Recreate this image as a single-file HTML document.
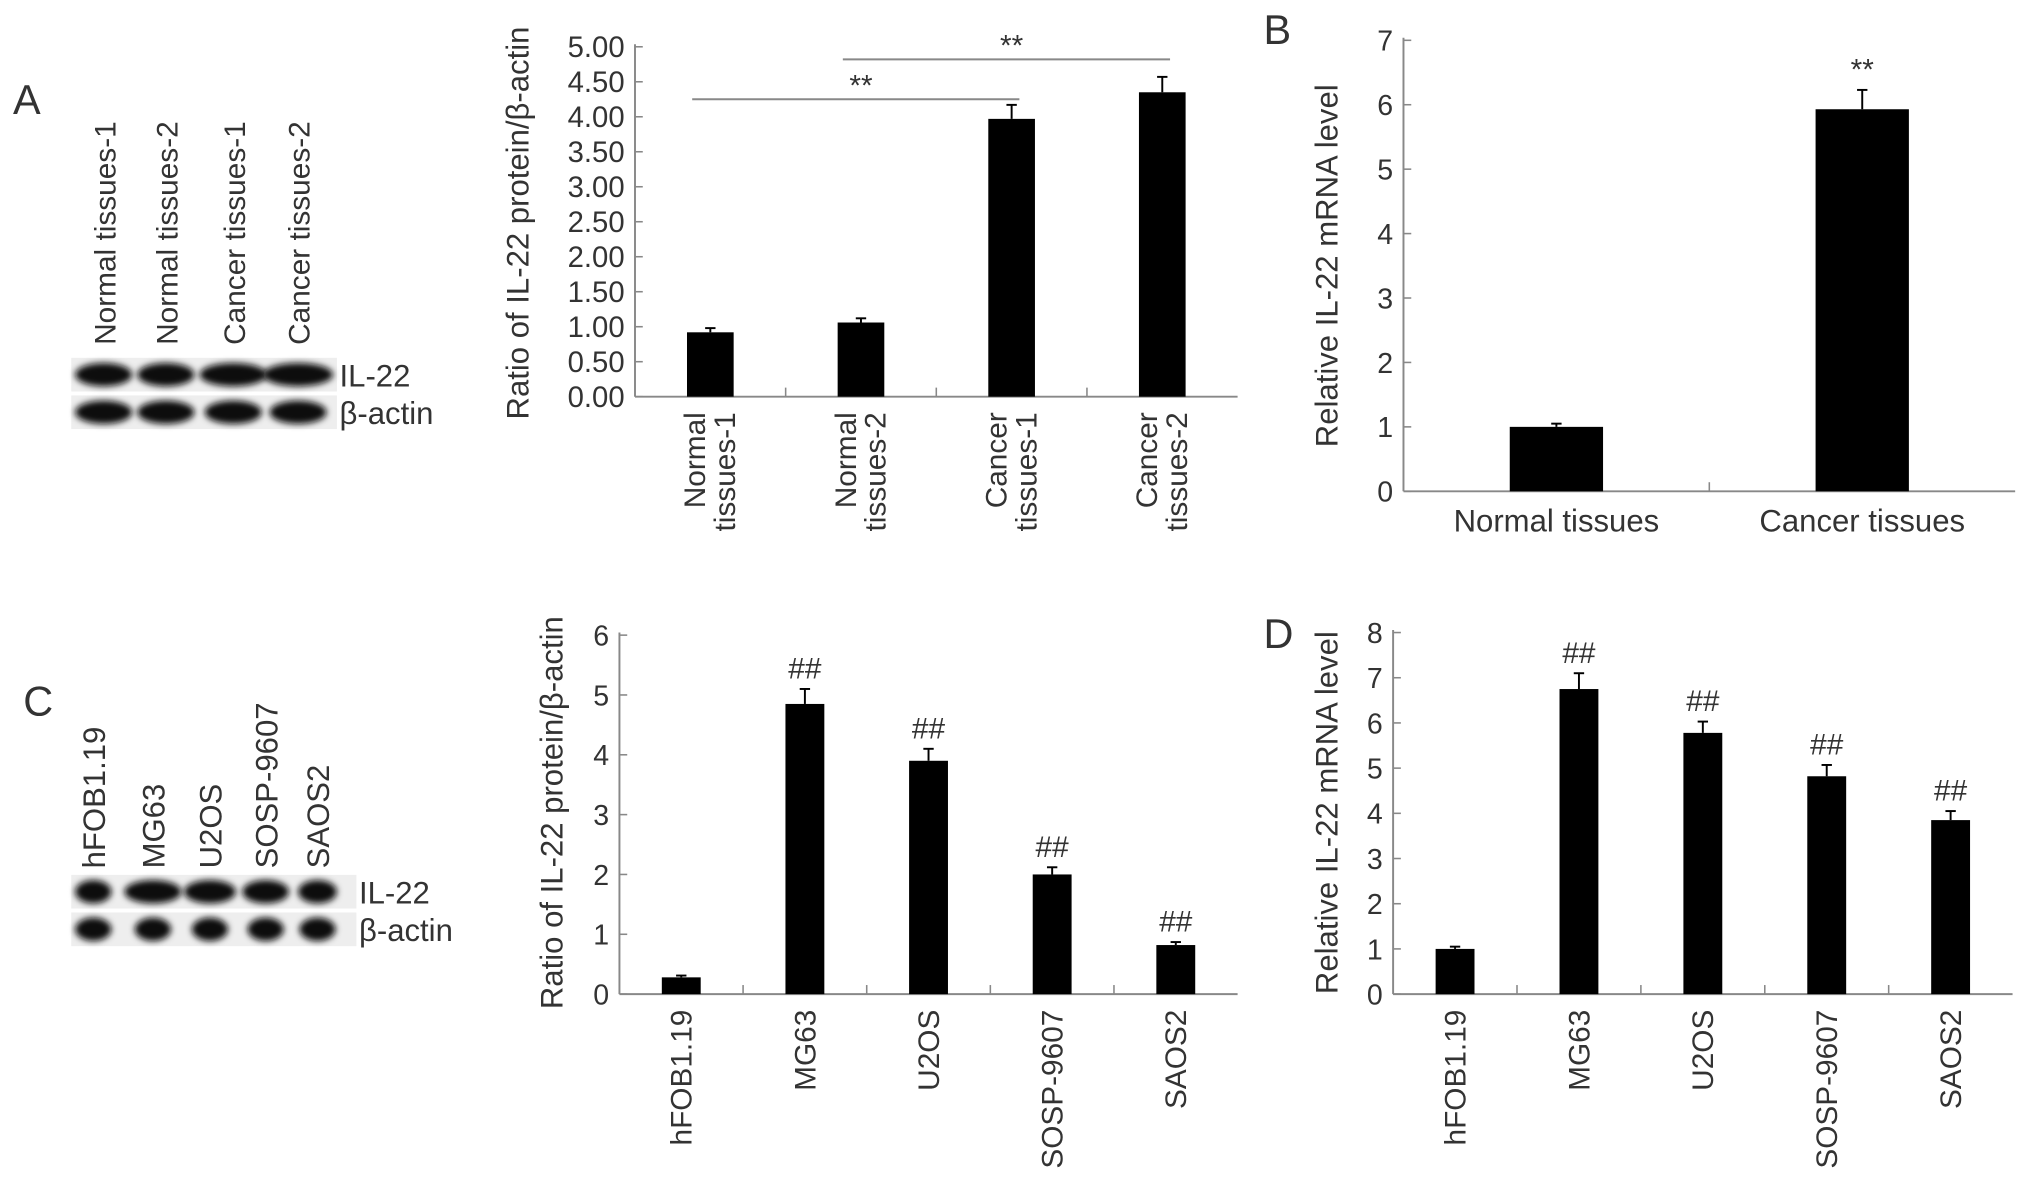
<!DOCTYPE html>
<html><head><meta charset="utf-8"><style>
html,body{margin:0;padding:0;background:#fff}
svg{display:block}
text{font-family:"Liberation Sans",sans-serif;fill:#333}
</style></head><body>
<svg id="fig" width="2032" height="1199" viewBox="0 0 1568 925" xmlns="http://www.w3.org/2000/svg">
<defs><filter id="blur" x="-20%" y="-50%" width="140%" height="200%"><feGaussianBlur stdDeviation="2.5"/></filter></defs>
<text x="10" y="88" font-size="32">A</text>
<text x="975" y="34" font-size="32">B</text>
<text x="18" y="552" font-size="32">C</text>
<text x="975" y="500" font-size="32">D</text>
<g id="blots"></g>
<g id="charts"></g>
</svg>
<script>
const catsA=["Normal|tissues-1","Normal|tissues-2","Cancer|tissues-1","Cancer|tissues-2"];
const valsA=[0.92,1.06,3.97,4.35];
const errA=[0.06,0.06,0.2,0.22];
const ticksA=["0.00","0.50","1.00","1.50","2.00","2.50","3.00","3.50","4.00","4.50","5.00"];
const catsB=["Normal tissues","Cancer tissues"];
const valsB=[1.0,5.93];
const errB=[0.05,0.3];
const ticksB=["0","1","2","3","4","5","6","7"];
const catsC=["hFOB1.19","MG63","U2OS","SOSP-9607","SAOS2"];
const valsC=[0.28,4.85,3.9,2.0,0.82];
const errC=[0.03,0.25,0.2,0.12,0.05];
const ticksC=["0","1","2","3","4","5","6"];
const valsD=[1.0,6.75,5.78,4.82,3.85];
const errD=[0.05,0.35,0.25,0.25,0.2];
const ticksD=["0","1","2","3","4","5","6","7","8"];
const marksC=["","##","##","##","##"];
const marksB=["","**"];

const NS="http://www.w3.org/2000/svg";
function mk(tag,attrs,parent,txt){const e=document.createElementNS(NS,tag);for(const k in attrs)if(attrs[k]!=null)e.setAttribute(k,attrs[k]);if(txt!=null)e.textContent=txt;parent.appendChild(e);return e;}
const charts=document.getElementById('charts');

function chart(o){
  const g=mk('g',{},charts);
  
  
  const n=o.vals.length, max=o.max;
  const y=v=>o.y0-(o.y0-o.y1)*v/max;
  const step=(o.xe-o.x0)/n;
  const cx=i=>o.x0+step*(i+0.5);
  const ax=mk('line',{x1:o.x0,y1:o.y0,x2:o.x0,y2:o.y1-2,stroke:'#888','stroke-width':1.5},g);
  
  
  const bx=mk('line',{x1:o.x0,y1:o.y0,x2:o.xe,y2:o.y0,stroke:'#888','stroke-width':1.5},g);
  
  
  for(let i=1;i<n;i++){const t=mk('line',{x1:o.x0+step*i,y1:o.y0,x2:o.x0+step*i,y2:o.y0-7,stroke:'#888','stroke-width':1.2},g);
    }
  o.ticks.forEach((lab,i)=>{const v=max*i/(o.ticks.length-1);
    const t=mk('line',{x1:o.x0,y1:y(v),x2:o.x0+6,y2:y(v),stroke:'#888','stroke-width':1.2},g);
    
    const tx=mk('text',{x:o.x0-8,y:y(v)+8,'font-size':o.tfs,'text-anchor':'end',textLength:o.tlen,lengthAdjust:o.tlen?'spacingAndGlyphs':null},g,lab);
    });
  const tt=mk('text',{x:0,y:0,'font-size':24,'text-anchor':'middle',transform:`translate(${o.tx},${o.ty}) rotate(-90)`},g,o.title);
  
  o.vals.forEach((v,i)=>{
    const b=mk('rect',{x:cx(i)-o.bw/2,y:y(v),width:o.bw,height:o.y0-y(v),fill:'#000'},g);
    
    const e=o.err[i];
    const el=mk('line',{x1:cx(i),y1:y(v),x2:cx(i),y2:y(v+e),stroke:'#000','stroke-width':1.5},g);
    
    const ec=mk('line',{x1:cx(i)-4,y1:y(v+e),x2:cx(i)+4,y2:y(v+e),stroke:'#000','stroke-width':1.5},g);
    
    if(o.marks&&o.marks[i]){const m=mk('text',{x:cx(i),y:y(v+e)-8,'font-size':23,'text-anchor':'middle'},g,o.marks[i]);
      }
    const lab=o.cats[i];
    if(o.rot){
      const parts=lab.split('|');
      const lt=mk('text',{x:0,y:0,'font-size':23,'text-anchor':'end',transform:`translate(${cx(i)},${o.y0+12}) rotate(-90)`},g);
      
      parts.forEach((p,k)=>{mk('tspan',{x:0,dy:k==0?(parts.length>1?-4:8):23},lt,p);});
    } else {
      const lt=mk('text',{x:cx(i),y:o.y0+31,'font-size':24,'text-anchor':'middle'},g,lab);
      
    }
  });
  return {y,cx,g};
}
const A=chart({name:'chart-a',vals:valsA,err:errA,cats:catsA,ticks:ticksA,max:5,x0:490,xe:955,y0:306,y1:36,bw:36,tfs:23,tlen:44,tx:408,ty:172,title:'Ratio of IL-22 protein/β-actin',rot:true});
[[0,2,4.25,"**"],[1,3,4.82,"**"]].forEach(s=>{
  const l=mk('line',{x1:A.cx(s[0])-14,y1:A.y(s[2]),x2:A.cx(s[1])+6,y2:A.y(s[2]),stroke:'#888','stroke-width':1.5},A.g);
  
  const t=mk('text',{x:(A.cx(s[0])+A.cx(s[1]))/2,y:A.y(s[2])-3,'font-size':23,'text-anchor':'middle'},A.g,s[3]);
  
});
chart({name:'chart-b',vals:valsB,err:errB,cats:catsB,ticks:ticksB,max:7,x0:1083,xe:1555,y0:379,y1:31,bw:72,tfs:22,tx:1032,ty:205,title:'Relative IL-22 mRNA level',rot:false,marks:marksB});
chart({name:'chart-c',vals:valsC,err:errC,cats:catsC,ticks:ticksC,max:6,x0:478,xe:955,y0:767,y1:490,bw:30,tfs:22,tx:434,ty:627,title:'Ratio of IL-22 protein/β-actin',rot:true,marks:marksC});
chart({name:'chart-d',vals:valsD,err:errD,cats:catsC,ticks:ticksD,max:8,x0:1075,xe:1553,y0:767,y1:488,bw:30,tfs:22,tx:1032,ty:627,title:'Relative IL-22 mRNA level',rot:true,marks:marksC});

const blots=document.getElementById('blots');
function blot(name,x,lanes,laneX,yIL,yAct,wIL,wAct,labelBottom,fs){
  const g=mk('g',{},blots);
  
  
  mk('rect',{x:x,y:yIL-13,width:laneX[laneX.length-1]-x+30,height:26,fill:'#eee'},g);
  mk('rect',{x:x,y:yAct-13,width:laneX[laneX.length-1]-x+30,height:26,fill:'#eee'},g);
  laneX.forEach((lx,i)=>{
    const b1=mk('ellipse',{cx:lx,cy:yIL,rx:wIL[i],ry:9,fill:'#111',filter:'url(#blur)'},g);
    
    const b2=mk('ellipse',{cx:lx,cy:yAct,rx:wAct,ry:9,fill:'#111',filter:'url(#blur)'},g);
    
    const t=mk('text',{x:0,y:0,'font-size':fs,'text-anchor':'start',transform:`translate(${lx+9},${labelBottom}) rotate(-90)`},g,lanes[i]);
    
  });
  const xl=laneX[laneX.length-1]+32;
  const t1=mk('text',{x:xl,y:yIL+9,'font-size':24},g,'IL-22');
  
  const t2=mk('text',{x:xl,y:yAct+9,'font-size':24},g,'β-actin');
  
}
blot('western-blot-a',55,["Normal tissues-1","Normal tissues-2","Cancer tissues-1","Cancer tissues-2"],[80,128,180,230],289,318,[22,22,26,27],22,266,23);
blot('western-blot-c',55,["hFOB1.19","MG63","U2OS","SOSP-9607","SAOS2"],[72,118,162,205,245],688,717,[14,22,20,18,15],14,670,24);
</script>
</body></html>
